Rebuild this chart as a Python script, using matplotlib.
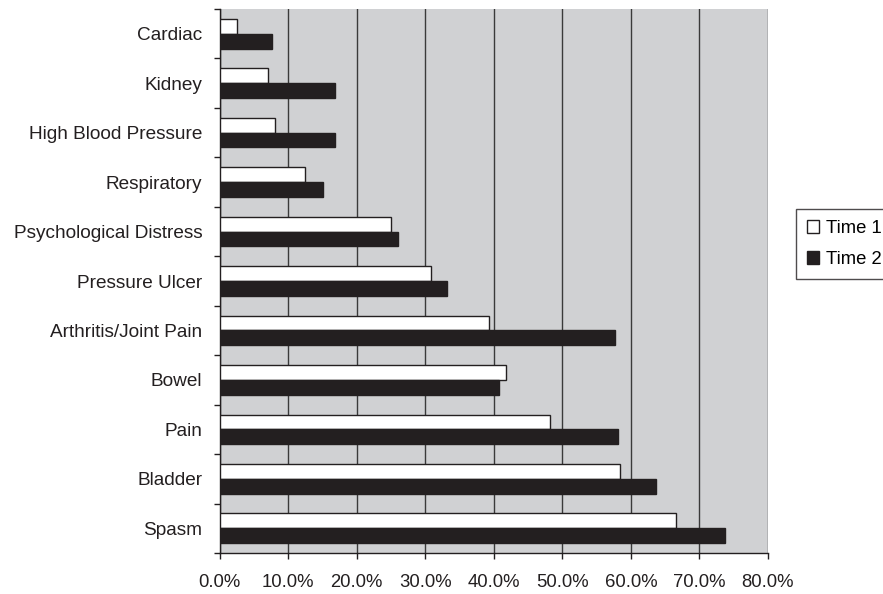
import matplotlib
matplotlib.use("Agg")
import matplotlib.pyplot as plt
import numpy as np
from matplotlib.patches import Patch
from matplotlib.ticker import FuncFormatter, FixedLocator

categories = ["Cardiac", "Kidney", "High Blood Pressure", "Respiratory",
              "Psychological Distress", "Pressure Ulcer", "Arthritis/Joint Pain",
              "Bowel", "Pain", "Bladder", "Spasm"]
time1 = [2.5, 7.1, 8.1, 12.5, 25.0, 30.8, 39.3, 41.8, 48.2, 58.4, 66.6]
time2 = [7.7, 16.9, 16.9, 15.1, 26.0, 33.2, 57.7, 40.7, 58.1, 63.7, 73.8]
series_labels = ["Time 1", "Time 2"]
x_ticks = [0, 10, 20, 30, 40, 50, 60, 70, 80]

plt.rcParams['font.family'] = ['Liberation Sans', 'DejaVu Sans']

fig = plt.figure(figsize=(8.83, 5.94), dpi=100)
ax = fig.add_axes([219.5/883, 1-553/594, (768-219.5)/883, (553-9)/594])
ax.set_facecolor('#d0d1d3')

y = np.arange(len(categories))
h = 0.3
ax.barh(y - h/2, time1, height=h, color='white', edgecolor='#231f20', linewidth=1.0, zorder=3)
ax.barh(y + h/2, time2, height=h, color='#231f20', edgecolor='#231f20', linewidth=1.0, zorder=3)

ax.set_xlim(0, 80)
ax.set_ylim(len(categories) - 0.5, -0.5)
ax.xaxis.set_major_locator(FixedLocator(x_ticks))
ax.xaxis.set_major_formatter(FuncFormatter(lambda v, p: f"{v:.1f}%"))
ax.grid(axis='x', color='#3a3a3a', linewidth=1.0, zorder=1)
ax.set_axisbelow(True)

ax.set_yticks(y)
ax.set_yticklabels(categories)
ax.yaxis.set_minor_locator(FixedLocator(np.arange(-0.5, len(categories), 1.0)))
ax.tick_params(axis='y', which='major', length=0, pad=12.5, labelsize=13.7, colors='#231f20')
ax.tick_params(axis='y', which='minor', length=4.5, width=1.0, color='#231f20')
ax.tick_params(axis='x', which='major', length=4.5, width=1.0, pad=10.5, labelsize=13.3, colors='#231f20')

for s in ['top', 'right']:
    ax.spines[s].set_visible(False)
for s in ['left', 'bottom']:
    ax.spines[s].set_color('#231f20')
    ax.spines[s].set_linewidth(1.0)

handles = [Patch(facecolor='white', edgecolor='#231f20', linewidth=1.0),
           Patch(facecolor='#231f20', edgecolor='#231f20', linewidth=1.0)]
leg = fig.legend(handles, series_labels, loc='upper left',
                 bbox_to_anchor=(796/883, 1-209/594), bbox_transform=fig.transFigure,
                 fontsize=13.3, frameon=True, fancybox=False, borderaxespad=0,
                 handlelength=0.65, handleheight=0.65, handletextpad=0.4,
                 labelspacing=0.75, borderpad=0.6)
leg.get_frame().set_edgecolor('#231f20')
leg.get_frame().set_linewidth(1.0)

fig.savefig("out.png", dpi=100)
